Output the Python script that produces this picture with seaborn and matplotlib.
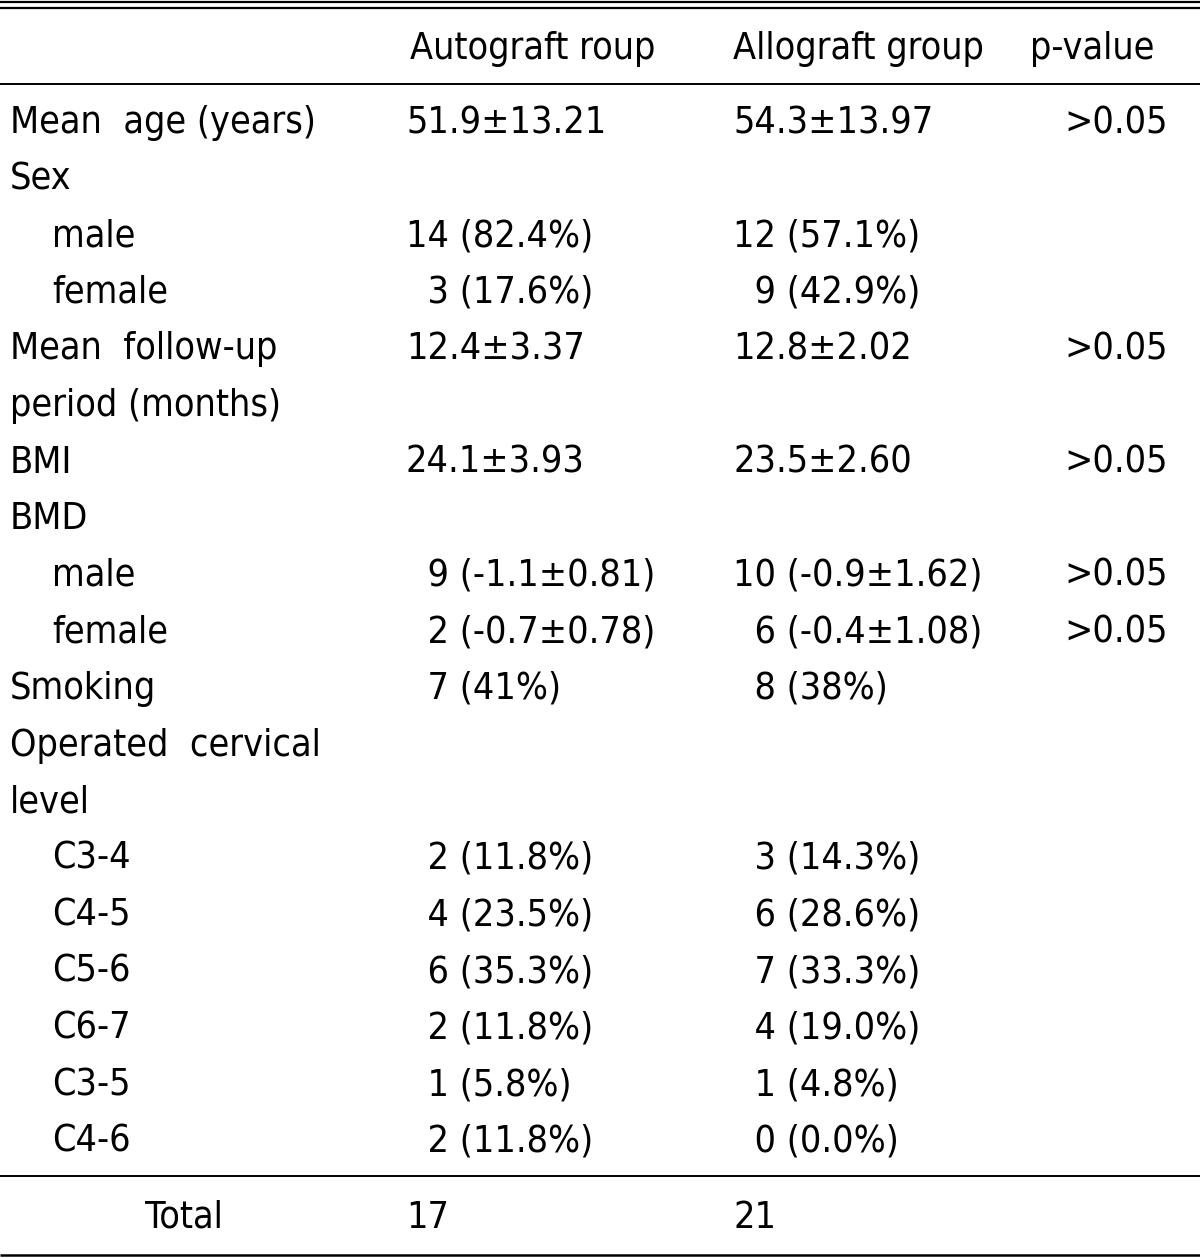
import matplotlib
matplotlib.use("Agg")
import matplotlib.pyplot as plt
import seaborn as sns

# table content (\u2007 = figure space, keeps single digits aligned under tens)
FS = "\u2007"
headers = ["", "Autograft roup", "Allograft group", "p-value"]
labels = ["Mean  age (years)", "Sex", "male", "female", "Mean  follow-up",
          "period (months)", "BMI", "BMD", "male", "female", "Smoking",
          "Operated  cervical", "level", "C3-4", "C4-5", "C5-6", "C6-7",
          "C3-5", "C4-6"]
indented = [False, False, True, True, False, False, False, False, True, True,
            False, False, False, True, True, True, True, True, True]
autograft = ["51.9\u00b113.21", "", "14 (82.4%)", FS + "3 (17.6%)", "12.4\u00b13.37", "",
             "24.1\u00b13.93", "", FS + "9 (-1.1\u00b10.81)", FS + "2 (-0.7\u00b10.78)",
             FS + "7 (41%)", "", "", FS + "2 (11.8%)", FS + "4 (23.5%)", FS + "6 (35.3%)",
             FS + "2 (11.8%)", FS + "1 (5.8%)", FS + "2 (11.8%)"]
allograft = ["54.3\u00b113.97", "", "12 (57.1%)", FS + "9 (42.9%)", "12.8\u00b12.02", "",
             "23.5\u00b12.60", "", "10 (-0.9\u00b11.62)", FS + "6 (-0.4\u00b11.08)",
             FS + "8 (38%)", "", "", FS + "3 (14.3%)", FS + "6 (28.6%)", FS + "7 (33.3%)",
             FS + "4 (19.0%)", FS + "1 (4.8%)", FS + "0 (0.0%)"]
pvalues = [">0.05", "", "", "", ">0.05", "", ">0.05", "", ">0.05", ">0.05", "",
           "", "", "", "", "", "", "", ""]
total_label = "Total"
total_auto = "17"
total_allo = "21"

sns.set_style("white")
plt.rcParams["font.family"] = ["DejaVu Sans"]
txt = dict(fontsize=27, fontstretch="condensed", color="black", va="center")

W, H = 1200, 1258
fig = plt.figure(figsize=(W / 100, H / 100), dpi=100)
ax = fig.add_axes([0, 0, 1, 1])
ax.set_xlim(0, W)
ax.set_ylim(H, 0)
ax.axis("off")

col_x = [10, 406, 733]
indent_x = 52
p_right = 1168

# header
ax.text(410, 49, headers[1], ha="left", **txt)
ax.text(col_x[2], 49, headers[2], ha="left", **txt)
ax.text(1030, 49, headers[3], ha="left", **txt)

y0, dy = 123, 56.6
for i, (lab, ind, a, b, p) in enumerate(zip(labels, indented, autograft, allograft, pvalues)):
    y = y0 + i * dy
    ax.text(indent_x if ind else col_x[0], y, lab, ha="left", **txt)
    ax.text(col_x[1], y, a, ha="left", **txt)
    ax.text(col_x[2], y, b, ha="left", **txt)
    if p:
        ax.text(p_right, y, p, ha="right", **txt)

ax.text(184, 1218, total_label, ha="center", **txt)
ax.text(col_x[1], 1218, total_auto, ha="left", **txt)
ax.text(col_x[2], 1218, total_allo, ha="left", **txt)

for yy, lw in [(2, 1.6), (8, 1.6), (84, 1.4), (1176, 1.4), (1255, 1.8)]:
    ax.plot([0, W], [yy, yy], color="black", lw=lw, solid_capstyle="butt")

fig.savefig("out.png", dpi=100, facecolor="white")
